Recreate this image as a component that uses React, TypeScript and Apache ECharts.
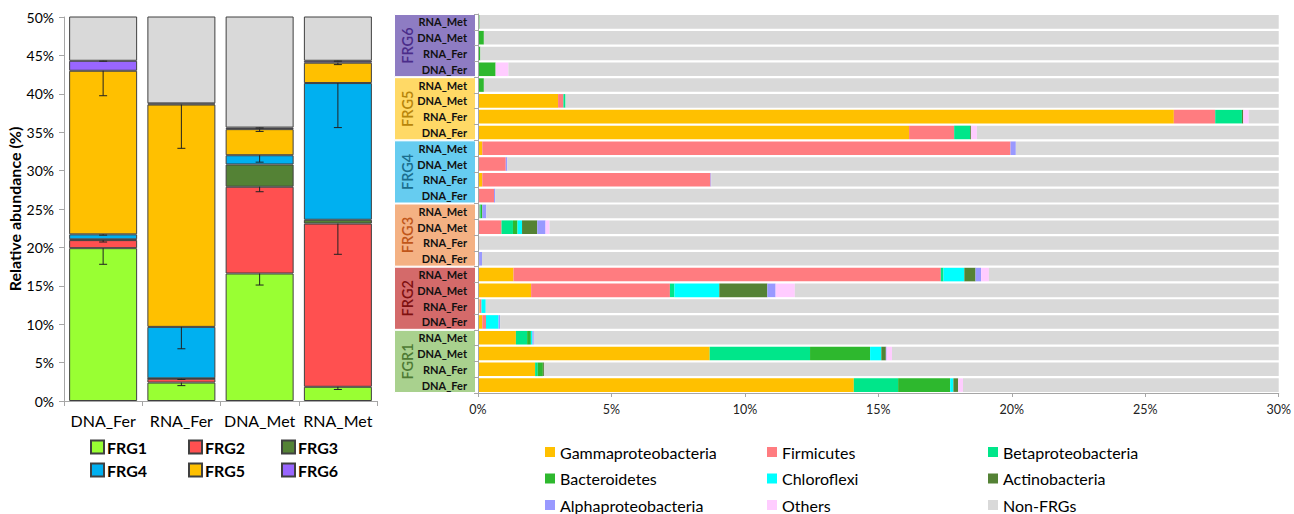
import React, { useEffect, useRef } from 'react';
import * as echarts from 'echarts';

// ---------- Left panel data ----------
const samples = ['DNA_Fer', 'RNA_Fer', 'DNA_Met', 'RNA_Met'];
const frgNames = ['FRG1', 'FRG2', 'FRG3', 'FRG4', 'FRG5', 'FRG6'];
const frg1 = [19.9, 2.4, 16.6, 1.85];
const frg2 = [1.05, 0.5, 11.3, 21.25];
const frg3 = [0.1, 0.05, 2.9, 0.5];
const frg4 = [0.65, 6.7, 1.2, 17.8];
const frg5 = [21.3, 28.95, 3.4, 2.65];
const frg6 = [1.3, 0.15, 0.2, 0.25];
const leftNonFrg = [55.7, 61.25, 64.4, 55.7];
// minus error bars
const err1 = [2.1, 0.4, 1.5, 0.35];
const err2 = [0.25, 0.1, 0.65, 4.0];
const err3 = [0, 0, 0, 0];
const err4 = [0.1, 2.85, 0.9, 5.8];
const err5 = [3.25, 5.7, 0.3, 0.25];
const err6 = [0.05, 0, 0.05, 0.05];
const leftTicks = [0, 50, 5];

// ---------- Right panel data (rows bottom -> top) ----------
const groups = ['FGR1', 'FRG2', 'FRG3', 'FRG4', 'FRG5', 'FRG6'];
const rowNames = ['DNA_Fer', 'RNA_Fer', 'DNA_Met', 'RNA_Met'];
const taxa = [
  'Gammaproteobacteria', 'Firmicutes', 'Betaproteobacteria',
  'Bacteroidetes', 'Chloroflexi', 'Actinobacteria',
  'Alphaproteobacteria', 'Others', 'Non-FRGs',
];
const gamma = [14.08, 2.14, 8.68, 1.42, 0.16, 0.06, 1.99, 1.33, 0, 0, 0, 0, 0, 0.16, 0, 0.16, 16.15, 26.07, 3.0, 0, 0, 0, 0, 0];
const firmicutes = [0, 0, 0, 0, 0.14, 0.07, 5.2, 16.01, 0, 0, 0.88, 0.06, 0.6, 8.55, 1.04, 19.79, 1.69, 1.55, 0.2, 0, 0, 0, 0, 0];
const beta = [1.66, 0.1, 3.76, 0.42, 0, 0, 0.17, 0.1, 0.04, 0, 0.43, 0.04, 0, 0, 0, 0, 0.6, 1.0, 0.08, 0, 0, 0, 0, 0];
const bacteroidetes = [1.95, 0.19, 2.25, 0.14, 0, 0, 0, 0, 0, 0, 0.17, 0.06, 0, 0, 0, 0, 0, 0, 0, 0.22, 0.66, 0.09, 0.22, 0.06];
const chloroflexi = [0.12, 0, 0.42, 0.06, 0.47, 0.16, 1.68, 0.78, 0, 0, 0.17, 0, 0, 0, 0, 0, 0, 0, 0, 0, 0, 0, 0, 0];
const actino = [0.18, 0.04, 0.17, 0, 0, 0, 1.8, 0.42, 0, 0, 0.57, 0, 0, 0, 0, 0, 0.03, 0.05, 0, 0, 0, 0, 0, 0];
const alpha = [0, 0, 0.03, 0.05, 0.06, 0, 0.31, 0.21, 0.11, 0, 0.31, 0.15, 0.04, 0.03, 0.06, 0.2, 0, 0, 0, 0, 0, 0, 0, 0];
const others = [0.18, 0, 0.2, 0, 0, 0, 0.72, 0.29, 0, 0, 0.15, 0, 0, 0, 0, 0, 0.22, 0.2, 0, 0, 0.48, 0, 0, 0];
const nonFrg = [81.83, 97.53, 84.49, 97.91, 99.17, 99.71, 88.13, 80.86, 99.85, 100, 97.32, 99.69, 99.36, 91.26, 98.9, 79.85, 81.31, 71.13, 96.72, 99.78, 98.86, 99.91, 99.78, 99.94];
const rightTicks = [0, 30, 5];

// ---------- Styles ----------
const FONT = 'Lato, "Open Sans", sans-serif';
const frgColors = ['#99FF33', '#FF5050', '#548235', '#00B0F0', '#FFC000', '#9966FF'];
const taxaColors = ['#FFC000', '#FF7C80', '#00E68A', '#2EB82E', '#00FFFF', '#548235', '#9999FF', '#FFCCFF', '#D9D9D9'];
const groupBoxColors = ['#A9D18E', '#D46A6A', '#F4B183', '#66CCF0', '#FFD966', '#8E7CC3'];
const groupTextColors = ['#4E7A34', '#7F1010', '#C0561A', '#1A6E8E', '#B8860B', '#4B2C8A'];

export default function App() {
  const ref = useRef<HTMLDivElement>(null);
  useEffect(() => {
    document.body.style.margin = '0';
    if (!ref.current) return;
    const chart = echarts.init(ref.current, null, { renderer: 'svg' });

    const frgData = [frg1, frg2, frg3, frg4, frg5, frg6];
    const errData = [err1, err2, err3, err4, err5, err6];
    const errItems: number[][] = [];
    samples.forEach((_, i) => {
      let cum = 0;
      frgData.forEach((arr, k) => {
        cum += arr[i];
        if (errData[k][i] > 0) errItems.push([i, cum, cum - errData[k][i]]);
      });
    });

    const rowLabels: string[] = [];
    groups.forEach(() => rowNames.forEach((r) => rowLabels.push(r)));
    const taxaData = [gamma, firmicutes, beta, bacteroidetes, chloroflexi, actino, alpha, others, nonFrg];

    const axisGray = '#A6A6A6';

    const leftSeries: any[] = frgNames.map((n, k) => ({
      name: n,
      type: 'bar',
      stack: 'L',
      xAxisIndex: 0,
      yAxisIndex: 0,
      barWidth: 68,
      data: frgData[k],
      itemStyle: { color: frgColors[k], borderColor: '#404040', borderWidth: 1 },
    }));
    leftSeries.push({
      name: 'Non-FRG (left)',
      type: 'bar',
      stack: 'L',
      xAxisIndex: 0,
      yAxisIndex: 0,
      barWidth: 68,
      data: leftNonFrg,
      itemStyle: { color: '#D9D9D9', borderColor: '#404040', borderWidth: 1 },
    });
    leftSeries.push({
      type: 'custom',
      name: 'err',
      xAxisIndex: 0,
      yAxisIndex: 0,
      z: 10,
      data: errItems,
      encode: { x: 0, y: [1, 2] },
      renderItem: (params: any, api: any) => {
        const x = api.value(0);
        const p1 = api.coord([x, api.value(1)]);
        const p2 = api.coord([x, api.value(2)]);
        const cap = 4;
        return {
          type: 'group',
          children: [
            { type: 'line', shape: { x1: p1[0], y1: p1[1], x2: p2[0], y2: p2[1] }, style: { stroke: '#222', lineWidth: 1 } },
            { type: 'line', shape: { x1: p2[0] - cap, y1: p2[1], x2: p2[0] + cap, y2: p2[1] }, style: { stroke: '#222', lineWidth: 1 } },
          ],
        };
      },
    });

    const groupSeries = {
      type: 'bar',
      name: 'groups',
      xAxisIndex: 1,
      yAxisIndex: 1,
      barWidth: '100%',
      silent: true,
      data: groups.map((g, i) => ({
        value: 1,
        itemStyle: { color: groupBoxColors[i] },
        label: { color: groupTextColors[i] },
      })),
      itemStyle: { borderColor: '#ffffff', borderWidth: 1 },
      label: {
        show: true,
        position: [13, '50%'],
        rotate: 90,
        align: 'center',
        verticalAlign: 'middle',
        fontSize: 14.5,
        fontWeight: 600,
        fontFamily: FONT,
        formatter: (p: any) => groups[p.dataIndex],
      },
    };

    const rightSeries = taxa.map((t, k) => ({
      name: t,
      type: 'bar',
      stack: 'R',
      xAxisIndex: 2,
      yAxisIndex: 2,
      barCategoryGap: '14%',
      data: taxaData[k],
      itemStyle: { color: taxaColors[k] },
    }));

    const leftLegendCols = [[0, 3], [1, 4], [2, 5]];
    const leftLegendX = [90, 188, 281];
    const rightLegendCols = [[0, 3, 6], [1, 4, 7], [2, 5, 8]];
    const rightLegendX = [545, 767, 988];

    const legends: any[] = [];
    leftLegendCols.forEach((col, c) => {
      legends.push({
        orient: 'vertical',
        left: leftLegendX[c],
        top: 439,
        padding: 0,
        itemWidth: 13,
        itemHeight: 13,
        itemGap: 7,
        icon: 'rect',
        selectedMode: false,
        data: col.map((i) => frgNames[i]),
        textStyle: { fontSize: 16, fontWeight: 'bold', color: '#000', fontFamily: FONT, padding: [0, 0, 0, -2] },
      });
    });
    rightLegendCols.forEach((col, c) => {
      legends.push({
        orient: 'vertical',
        left: rightLegendX[c],
        top: 444,
        padding: 0,
        itemWidth: 10,
        itemHeight: 10,
        itemGap: 10.5,
        icon: 'rect',
        selectedMode: false,
        data: col.map((i) => taxa[i]),
        textStyle: { fontSize: 16, color: '#000', fontFamily: FONT },
      });
    });

    chart.setOption({
      animation: false,
      textStyle: { fontFamily: FONT },
      legend: legends,
      grid: [
        { left: 64, top: 17, width: 313, height: 384 },
        { left: 394, top: 14, width: 82, height: 379 },
        { left: 478, top: 14, width: 805, height: 379 },
      ],
      xAxis: [
        {
          gridIndex: 0,
          type: 'category',
          data: samples,
          axisLine: { lineStyle: { color: axisGray } },
          axisTick: { show: true, length: 5, lineStyle: { color: axisGray } },
          axisLabel: { fontSize: 16, color: '#000', margin: 11, fontFamily: FONT, interval: 0 },
        },
        { gridIndex: 1, type: 'value', min: 0, max: 1, show: false },
        {
          gridIndex: 2,
          type: 'value',
          min: rightTicks[0],
          max: rightTicks[1],
          interval: rightTicks[2],
          axisLine: { show: true, lineStyle: { color: axisGray } },
          axisTick: { show: true, length: 4, lineStyle: { color: axisGray } },
          splitLine: { show: false },
          axisLabel: { fontSize: 12.5, color: '#222', margin: 10, formatter: '{value}%', fontFamily: FONT },
        },
      ],
      yAxis: [
        {
          gridIndex: 0,
          type: 'value',
          min: leftTicks[0],
          max: leftTicks[1],
          interval: leftTicks[2],
          name: 'Relative abundance (%)',
          nameLocation: 'middle',
          nameGap: 42,
          nameTextStyle: { fontSize: 16, fontWeight: 'bold', color: '#000', fontFamily: FONT },
          axisLine: { show: true, lineStyle: { color: axisGray } },
          axisTick: { show: true, length: 5, lineStyle: { color: axisGray } },
          splitLine: { show: false },
          axisLabel: { fontSize: 14, color: '#000', margin: 10, formatter: '{value}%', fontFamily: FONT },
        },
        { gridIndex: 1, type: 'category', data: groups, show: false },
        {
          gridIndex: 2,
          type: 'category',
          data: rowLabels,
          z: 10,
          axisLine: { show: true, lineStyle: { color: axisGray } },
          axisTick: { show: true, length: 4, lineStyle: { color: axisGray } },
          axisLabel: { fontSize: 11, fontWeight: 'bold', color: '#111', margin: 11, fontFamily: FONT, interval: 0 },
        },
      ],
      series: [...leftSeries, groupSeries, ...rightSeries],
    });

    return () => chart.dispose();
  }, []);

  return <div ref={ref} style={{ width: 1294, height: 514 }} />;
}
